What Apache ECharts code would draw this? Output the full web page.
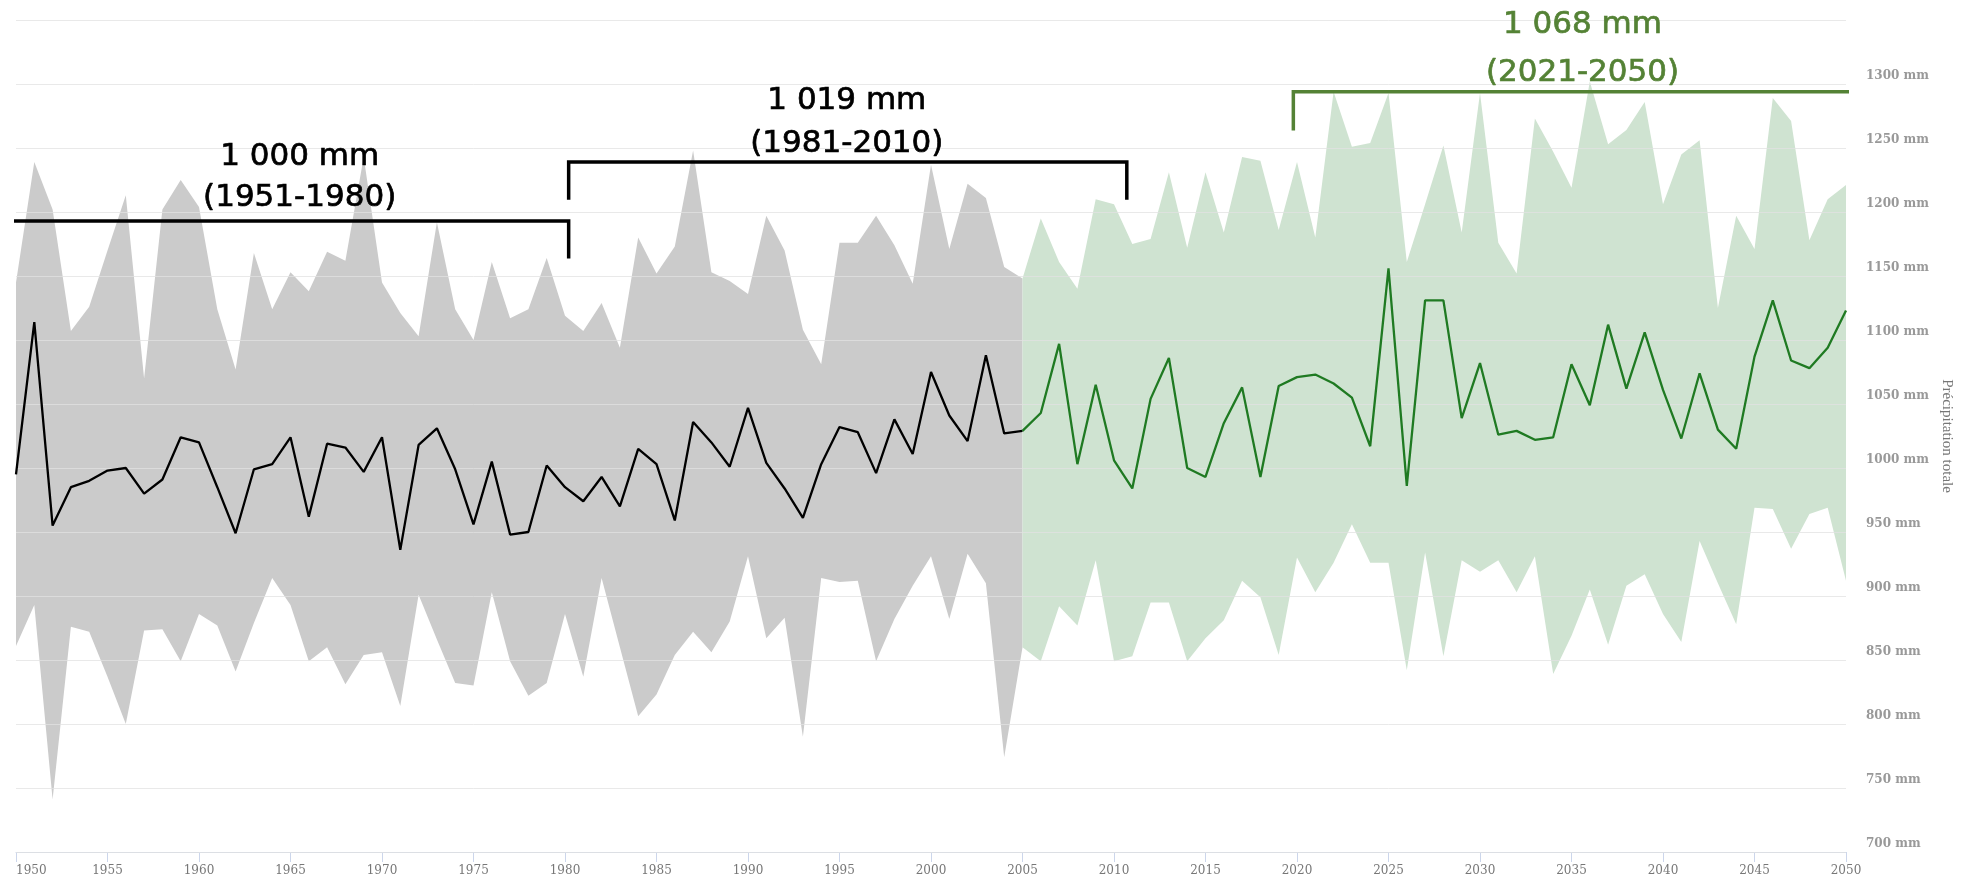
<!DOCTYPE html>
<html>
<head>
<meta charset="utf-8">
<script src="https://cdn.jsdelivr.net/npm/echarts@6/dist/echarts.min.js"></script>
<style>
html,body{margin:0;padding:0;background:#fff;}
#chart{width:1967px;height:881px;}
</style>
</head>
<body>
<div id="chart"></div>
<script>
// ---- Data (mm) ----
const histYears = [1950,1951,1952,1953,1954,1955,1956,1957,1958,1959,1960,1961,1962,1963,1964,1965,1966,1967,1968,1969,1970,1971,1972,1973,1974,1975,1976,1977,1978,1979,1980,1981,1982,1983,1984,1985,1986,1987,1988,1989,1990,1991,1992,1993,1994,1995,1996,1997,1998,1999,2000,2001,2002,2003,2004,2005];
const histMean = [995,1114,955,985,990,998,1000,980,991,1024,1020,985,949,999,1003,1024,962,1019,1016,997,1024,936,1018,1031,999,956,1005,948,950,1002,985,974,993,970,1015,1003,959,1036,1020,1001,1047,1004,984,961,1003,1032,1028,996,1038,1011,1075,1041,1021,1088,1027,1029];
const histUpper = [1145,1239,1202,1107,1126,1170,1213,1070,1202,1225,1204,1124,1077,1168,1124,1153,1138,1169,1162,1243,1145,1121,1103,1192,1124,1100,1161,1117,1124,1164,1119,1107,1129,1094,1180,1152,1173,1248,1153,1146,1136,1197,1170,1108,1081,1176,1176,1197,1174,1144,1237,1171,1222,1211,1157,1148];
const histLower = [861,893,741,876,872,837,800,873,874,849,886,877,841,879,914,893,849,860,831,854,856,814,901,866,832,830,903,849,822,832,886,837,914,860,806,823,854,872,856,880,931,867,883,790,914,911,912,849,882,908,931,882,933,910,774,860];

const projYears = [2005,2006,2007,2008,2009,2010,2011,2012,2013,2014,2015,2016,2017,2018,2019,2020,2021,2022,2023,2024,2025,2026,2027,2028,2029,2030,2031,2032,2033,2034,2035,2036,2037,2038,2039,2040,2041,2042,2043,2044,2045,2046,2047,2048,2049,2050];
const projMean = [1029,1043,1097,1003,1065,1006,984,1054,1086,1000,993,1035,1063,993,1064,1071,1073,1066,1055,1017,1156,986,1131,1131,1039,1082,1026,1029,1022,1024,1081,1049,1112,1062,1106,1061,1023,1074,1030,1015,1087,1131,1084,1078,1094,1123];
const projUpper = [1148,1195,1161,1140,1210,1206,1175,1179,1231,1172,1231,1184,1243,1240,1186,1239,1180,1294,1251,1254,1293,1161,1206,1252,1184,1293,1176,1152,1273,1247,1219,1302,1253,1264,1286,1206,1245,1256,1125,1197,1171,1289,1271,1178,1210,1221];
const projLower = [860,849,892,877,928,849,853,895,895,849,867,881,912,899,854,930,903,926,956,926,926,842,934,853,928,919,928,903,931,839,869,905,862,908,917,886,864,943,910,878,969,968,937,964,969,912];

const yTicks = [700,750,800,850,900,950,1000,1050,1100,1150,1200,1250,1300];
const periodLabels = ['(1951-1980)','(1981-2010)','(2021-2050)'];
const periodMeans = ['1 000 mm','1 019 mm','1 068 mm'];

// ---- helpers ----
const zip = (xs, ys) => xs.map((x, i) => [x, ys[i]]);

const GREEN_TXT = '#548235';
const GREEN_LINE = '#1f7a22';

function bandSeries(years, upper, lower, color) {
  return {
    type: 'custom', silent: true, z: 2,
    data: [[years[0], lower[0]]],
    encode: {x: 0, y: 1},
    renderItem: function (params, api) {
      if (params.dataIndex !== 0) return null;
      const pts = [];
      for (let i = 0; i < years.length; i++) pts.push(api.coord([years[i], upper[i]]));
      for (let i = years.length - 1; i >= 0; i--) pts.push(api.coord([years[i], lower[i]]));
      return {type: 'polygon', shape: {points: pts}, style: {fill: color}};
    }
  };
}

// Annotation brackets (data units)
const brackets = [
  {x1: 1949.7, x2: 1980.2, top: 1193, bot: 1165, color: '#000'},
  {x1: 1980.2, x2: 2010.7, top: 1239, bot: 1211, color: '#000'},
  {x1: 2019.8, x2: 2050.3, top: 1294, bot: 1265, color: GREEN_TXT}
];
const textAnchors = [
  {x: 1965.5, yMean: 1243, yPer: 1211, color: '#000'},
  {x: 1995.4, yMean: 1287, yPer: 1253, color: '#000'},
  {x: 2035.6, yMean: 1346, yPer: 1309, color: GREEN_TXT}
];

const series = [];
series.push(bandSeries(histYears, histUpper, histLower, '#cbcbcb'));
series.push(bandSeries(projYears, projUpper, projLower, '#cfe3d1'));
series.push({type:'line', name:'hist', data: zip(histYears, histMean), symbol:'none', lineStyle:{color:'#000', width:2.3}, z:6});
series.push({type:'line', name:'proj', data: zip(projYears, projMean), symbol:'none', lineStyle:{color:GREEN_LINE, width:2.3}, z:6});
brackets.forEach(b => {
  series.push({type:'line', silent:true, clip:false, symbol:'none', z:7,
    data: [[b.x1, b.bot],[b.x1, b.top],[b.x2, b.top],[b.x2, b.bot]],
    lineStyle:{color:b.color, width:3.5, cap:'square', join:'miter'}});
});
const textData = [];
textAnchors.forEach((t, i) => {
  textData.push({value:[t.x, t.yMean], name: periodMeans[i], label:{color:t.color, textBorderColor:t.color}});
  textData.push({value:[t.x, t.yPer], name: periodLabels[i], label:{color:t.color, textBorderColor:t.color}});
});
series.push({type:'scatter', silent:true, symbolSize:0, clip:false, z:8, data:textData,
  itemStyle:{opacity:1},
  label:{show:true, position:'inside', formatter: p => p.name, fontFamily:'DejaVu Sans', fontSize:31,
    textBorderWidth:0.7, color:'#000', opacity:1}});

const chart = echarts.init(document.getElementById('chart'), null, {renderer:'canvas'});
chart.setOption({
  animation:false,
  backgroundColor:'#fff',
  grid:{left:16, right:121, top:20, bottom:29, containLabel:false},
  xAxis:{type:'value', min:1950, max:2050, interval:5,
    axisLine:{show:true, lineStyle:{color:'#ccd6eb', width:1}},
    axisTick:{show:true, length:10, lineStyle:{color:'#ccd6eb'}},
    splitLine:{show:false},
    axisLabel:{fontFamily:'DejaVu Serif', fontSize:12, color:'#777', margin:13, alignMinLabel:'left',
      formatter: v => String(v)}},
  yAxis:{type:'value', position:'right', min:700, max:1350, interval:50, z:3,
    axisLine:{show:false}, axisTick:{show:false},
    splitLine:{show:true, lineStyle:{color:'#e2e2e2', width:1, opacity:0.75}},
    axisLabel:{showMaxLabel:false, fontFamily:'DejaVu Serif', fontWeight:'bold', fontSize:12, color:'#999', margin:20,
      verticalAlign:'bottom', padding:[0,0,2,0],
      formatter: v => yTicks.indexOf(v) >= 0 ? v + ' mm' : ''},
    name:'Précipitation totale', nameLocation:'middle', nameRotate:-90, nameGap:88,
    nameTextStyle:{fontFamily:'Liberation Serif', fontSize:15, color:'#777'}},
  series: series
});
</script>
</body>
</html>
